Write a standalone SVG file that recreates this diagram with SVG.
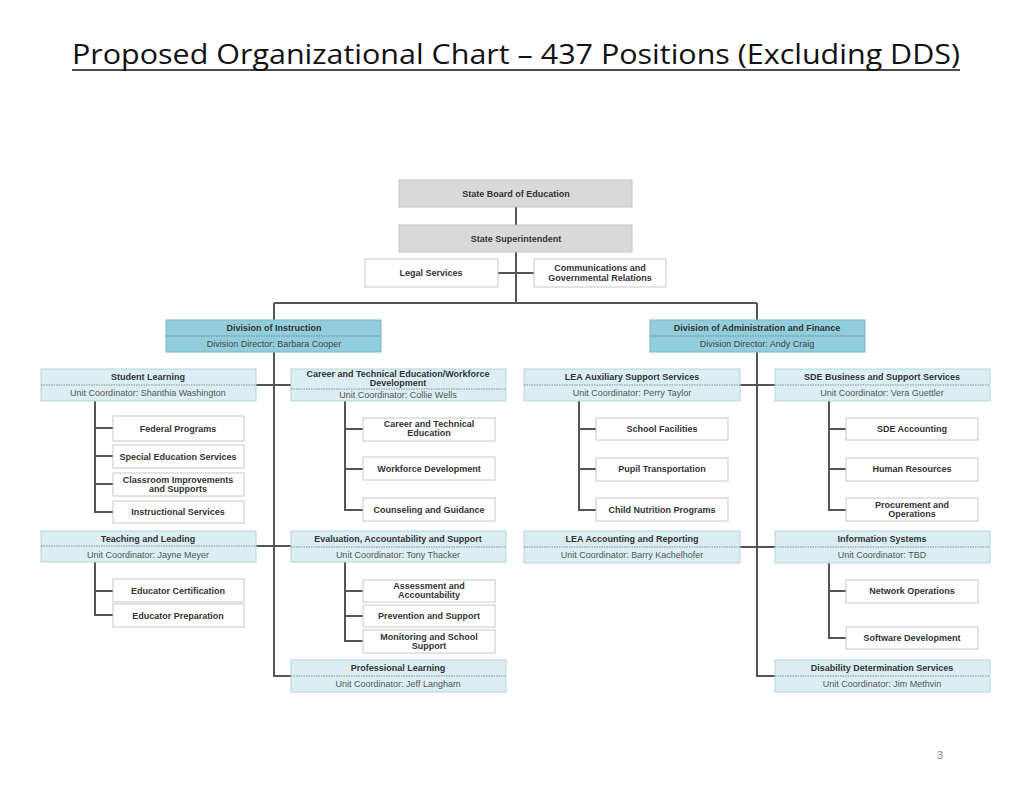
<svg xmlns="http://www.w3.org/2000/svg" width="1024" height="791" viewBox="0 0 1024 791">
<style>
text{font-family:"Liberation Sans",Arial,sans-serif;text-anchor:middle}
.t{font-size:9px;font-weight:bold;fill:#333}
.s{font-size:9px;fill:#555}
.g{fill:#d9d9d9;stroke:#c4c4c4}
.w{fill:#fff;stroke:#c8c8c8}
.d{fill:#92cddc;stroke:#7fb8c8}
.u{fill:#dbeef3;stroke:#b4d4de}
.sep{stroke:#666;stroke-width:0.7;stroke-dasharray:1.5 1}
.c{fill:none;stroke:#555;stroke-width:2}
</style>
<rect width="1024" height="791" fill="#fff"/>
<text x="516" y="64" style="font-family:'Open Sans','Liberation Sans',sans-serif;font-size:28px;fill:#111" textLength="888" lengthAdjust="spacingAndGlyphs">Proposed Organizational Chart – 437 Positions (Excluding DDS)</text>
<line x1="72" y1="70" x2="960" y2="70" stroke="#111" stroke-width="1.5"/>
<text x="940" y="759" style="font-size:11px;fill:#888">3</text>
<g id="connectors" class="c">
<path d="M516 207V303M498 273H534M274 303H757M274 303V676H291M757 303V676H775"/>
<path d="M256 385H291M256 546H291M740 385H775M740 547H775"/>
<path d="M95 401V512H113M95 428H113M95 456H113M95 484H113"/>
<path d="M345 401V510H363M345 429H363M345 469H363"/>
<path d="M95 562V615H113M95 591H113"/>
<path d="M345 562V641H363M345 591H363M345 616H363"/>
<path d="M579 401V510H596M579 429H596M579 469H596"/>
<path d="M829 401V510H846M829 429H846M829 469H846"/>
<path d="M829 563V638H846M829 591H846"/>
</g>
<g id="board"><rect class="g" x="399" y="180" width="233" height="27"/><text class="t" x="516" y="197">State Board of Education</text></g>
<g id="super"><rect class="g" x="399" y="225" width="233" height="27"/><text class="t" x="516" y="242">State Superintendent</text></g>
<g id="legal"><rect class="w" x="365" y="259" width="133" height="28"/><text class="t" x="431" y="276">Legal Services</text></g>
<g id="comm"><rect class="w" x="534" y="259" width="132" height="28"/><text class="t" x="600" y="271">Communications and</text><text class="t" x="600" y="281">Governmental Relations</text></g>
<g id="div-instr"><rect class="d" x="166" y="320" width="215" height="32"/><line class="sep" x1="166" y1="336" x2="381" y2="336"/><text class="t" x="274" y="331">Division of Instruction</text><text class="s" x="274" y="347" style="fill:#444">Division Director: Barbara Cooper</text></g>
<g id="div-admin"><rect class="d" x="650" y="320" width="215" height="32"/><line class="sep" x1="650" y1="336" x2="865" y2="336"/><text class="t" x="757" y="331">Division of Administration and Finance</text><text class="s" x="757" y="347" style="fill:#444">Division Director: Andy Craig</text></g>
<g id="u-sl"><rect class="u" x="41" y="369" width="215" height="32"/><line class="sep" x1="41" y1="385" x2="256" y2="385"/><text class="t" x="148" y="380">Student Learning</text><text class="s" x="148" y="396">Unit Coordinator: Shanthia Washington</text></g>
<g id="u-cte"><rect class="u" x="291" y="369" width="215" height="32"/><line class="sep" x1="291" y1="389" x2="506" y2="389"/><text class="t" x="398" y="377">Career and Technical Education/Workforce</text><text class="t" x="398" y="386">Development</text><text class="s" x="398" y="398">Unit Coordinator: Collie Wells</text></g>
<g id="u-tl"><rect class="u" x="41" y="531" width="215" height="31"/><line class="sep" x1="41" y1="546" x2="256" y2="546"/><text class="t" x="148" y="542">Teaching and Leading</text><text class="s" x="148" y="558">Unit Coordinator: Jayne Meyer</text></g>
<g id="u-eval"><rect class="u" x="291" y="531" width="215" height="31"/><line class="sep" x1="291" y1="547" x2="506" y2="547"/><text class="t" x="398" y="542">Evaluation, Accountability and Support</text><text class="s" x="398" y="558">Unit Coordinator: Tony Thacker</text></g>
<g id="u-pl"><rect class="u" x="291" y="660" width="215" height="32"/><line class="sep" x1="291" y1="676" x2="506" y2="676"/><text class="t" x="398" y="671">Professional Learning</text><text class="s" x="398" y="687">Unit Coordinator: Jeff Langham</text></g>
<g id="u-lea"><rect class="u" x="524" y="369" width="216" height="32"/><line class="sep" x1="524" y1="385" x2="740" y2="385"/><text class="t" x="632" y="380">LEA Auxiliary Support Services</text><text class="s" x="632" y="396">Unit Coordinator: Perry Taylor</text></g>
<g id="u-sde"><rect class="u" x="775" y="369" width="215" height="32"/><line class="sep" x1="775" y1="385" x2="990" y2="385"/><text class="t" x="882" y="380">SDE Business and Support Services</text><text class="s" x="882" y="396">Unit Coordinator: Vera Guettler</text></g>
<g id="u-leaacc"><rect class="u" x="524" y="531" width="216" height="32"/><line class="sep" x1="524" y1="547" x2="740" y2="547"/><text class="t" x="632" y="542">LEA Accounting and Reporting</text><text class="s" x="632" y="558">Unit Coordinator: Barry Kachelhofer</text></g>
<g id="u-is"><rect class="u" x="775" y="531" width="215" height="32"/><line class="sep" x1="775" y1="547" x2="990" y2="547"/><text class="t" x="882" y="542">Information Systems</text><text class="s" x="882" y="558">Unit Coordinator: TBD</text></g>
<g id="u-dds"><rect class="u" x="775" y="660" width="215" height="32"/><line class="sep" x1="775" y1="676" x2="990" y2="676"/><text class="t" x="882" y="671">Disability Determination Services</text><text class="s" x="882" y="687">Unit Coordinator: Jim Methvin</text></g>
<g id="fed"><rect class="w" x="113" y="416" width="131" height="25"/><text class="t" x="178" y="432">Federal Programs</text></g>
<g id="sped"><rect class="w" x="113" y="445" width="131" height="23"/><text class="t" x="178" y="460">Special Education Services</text></g>
<g id="class"><rect class="w" x="113" y="473" width="131" height="23"/><text class="t" x="178" y="483">Classroom Improvements</text><text class="t" x="178" y="492">and Supports</text></g>
<g id="instr"><rect class="w" x="113" y="501" width="131" height="22"/><text class="t" x="178" y="515">Instructional Services</text></g>
<g id="cte"><rect class="w" x="363" y="418" width="132" height="23"/><text class="t" x="429" y="427">Career and Technical</text><text class="t" x="429" y="436">Education</text></g>
<g id="wf"><rect class="w" x="363" y="457" width="132" height="23"/><text class="t" x="429" y="472">Workforce Development</text></g>
<g id="couns"><rect class="w" x="363" y="498" width="132" height="23"/><text class="t" x="429" y="513">Counseling and Guidance</text></g>
<g id="cert"><rect class="w" x="113" y="579" width="131" height="23"/><text class="t" x="178" y="594">Educator Certification</text></g>
<g id="prep"><rect class="w" x="113" y="604" width="131" height="23"/><text class="t" x="178" y="619">Educator Preparation</text></g>
<g id="assess"><rect class="w" x="363" y="580" width="132" height="22"/><text class="t" x="429" y="589">Assessment and</text><text class="t" x="429" y="598">Accountability</text></g>
<g id="prev"><rect class="w" x="363" y="605" width="132" height="22"/><text class="t" x="429" y="619">Prevention and Support</text></g>
<g id="monit"><rect class="w" x="363" y="630" width="132" height="23"/><text class="t" x="429" y="640">Monitoring and School</text><text class="t" x="429" y="649">Support</text></g>
<g id="fac"><rect class="w" x="596" y="418" width="132" height="22"/><text class="t" x="662" y="432">School Facilities</text></g>
<g id="pupil"><rect class="w" x="596" y="458" width="132" height="23"/><text class="t" x="662" y="472">Pupil Transportation</text></g>
<g id="nutr"><rect class="w" x="596" y="498" width="132" height="23"/><text class="t" x="662" y="513">Child Nutrition Programs</text></g>
<g id="sdeacc"><rect class="w" x="846" y="418" width="132" height="22"/><text class="t" x="912" y="432">SDE Accounting</text></g>
<g id="hr"><rect class="w" x="846" y="458" width="132" height="23"/><text class="t" x="912" y="472">Human Resources</text></g>
<g id="proc"><rect class="w" x="846" y="498" width="132" height="23"/><text class="t" x="912" y="508">Procurement and</text><text class="t" x="912" y="517">Operations</text></g>
<g id="net"><rect class="w" x="846" y="580" width="132" height="23"/><text class="t" x="912" y="594">Network Operations</text></g>
<g id="soft"><rect class="w" x="846" y="627" width="132" height="22"/><text class="t" x="912" y="641">Software Development</text></g>
</svg>
